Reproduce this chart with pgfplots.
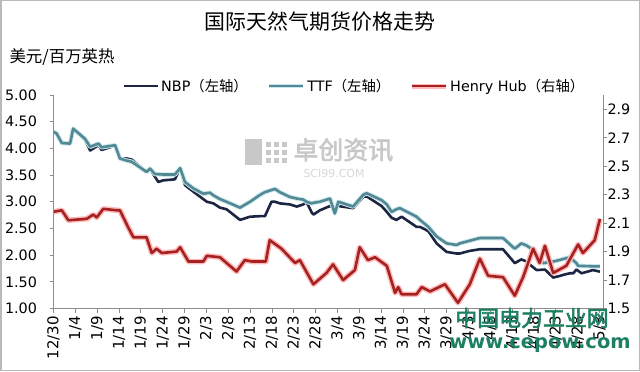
\documentclass[border=0pt]{standalone}
\usepackage{fontspec}
\setmainfont{DejaVu Sans}
\newfontfamily\cjk[AutoFakeBold=2.5]{Noto Sans CJK SC}
\usepackage{pgfplots}
\pgfplotsset{compat=1.18}
\definecolor{nbp}{RGB}{28,38,66}
\definecolor{ttf}{RGB}{84,136,146}
\definecolor{ttfglow}{RGB}{200,232,240}
\definecolor{hh}{RGB}{165,34,34}
\definecolor{hhglow}{RGB}{255,185,185}
\definecolor{axgray}{RGB}{140,140,140}
\definecolor{wmgreen}{RGB}{30,128,98}
\definecolor{wmgray}{RGB}{200,200,200}

\begin{document}
\begin{tikzpicture}[x=1bp,y=1bp]
\fill[white] (0,0) rectangle (640,371);
\draw[gray!55, line width=1.5bp] (0.75,0.75) rectangle (639.25,370.25);
\node[font=\cjk\fontsize{21}{24}\selectfont] at (320,349) {国际天然气期货价格走势};
\node[anchor=west, font=\cjk\fontsize{16.5}{18}\selectfont] at (6,314) {美元/百万英热};
% gray watermark
\fill[wmgray] (245,206) rectangle (262,232);
\foreach \i in {0,1,2} \foreach \j in {0,1,2} {\fill[wmgray] (266+\i*8,208+\j*8) rectangle (271+\i*8,213+\j*8);}
\node[anchor=west, text=wmgray, font=\cjk\bfseries\fontsize{25}{27}\selectfont] at (290,221) {卓创资讯};
\node[anchor=west, text=wmgray!70, font=\fontsize{11}{12}\selectfont] at (300,197) {SCI99.COM};

\begin{axis}[
  at={(53.5bp,62.5bp)}, anchor=south west, scale only axis,
  width=549.5bp, height=213.5bp,
  xmin=0, xmax=125.8, ymin=1, ymax=5,
  axis y line*=left, axis x line*=bottom,
  axis line style={axgray, line width=0.9bp},
  tick style={axgray, line width=0.8bp}, tick align=outside, major tick length=4bp,
  xtick={0,5,...,125},
  xticklabels={12/30,1/4,1/9,1/14,1/19,1/24,1/29,2/3,2/8,2/13,2/18,2/23,2/28,3/4,3/9,3/14,3/19,3/24,3/29,4/3,4/8,4/13,4/18,4/23,4/28,5/3},
  xticklabel style={rotate=90, anchor=east, font=\fontsize{15}{16}\selectfont},
  ytick={1,1.5,2,2.5,3,3.5,4,4.5,5},
  yticklabel style={font=\fontsize{14.4}{16}\selectfont, /pgf/number format/fixed, /pgf/number format/fixed zerofill, /pgf/number format/precision=2, xshift=-9bp},
  /pgf/number format/assume math mode=true,
  legend columns=3,
  legend style={at={(0.12,1.042)}, anchor=west, draw=none, fill=none, font=\fontsize{14.4}{16}\selectfont,
    /tikz/every even column/.append style={column sep=17bp}},
  legend image code/.code={\draw[#1] (0bp,0bp) -- (34bp,0bp);},
]
\addplot[nbp, line width=2.6bp, line join=round] coordinates {
(0,4.31)(0.7,4.28)(1.9,4.12)(3.8,4.09)(4.5,4.37)(7.2,4.16)(8.4,3.96)(10.3,4.06)(11.0,3.97)(14.1,4.05)
(15.2,3.81)(16.8,3.81)(17.9,3.79)(21.3,3.56)(22.1,3.61)(24.0,3.37)(25.1,3.40)(27.8,3.42)(29.0,3.63)(30.1,3.31)
(32.0,3.19)(35.1,3.00)(36.6,2.97)(38.1,2.89)(39.6,2.86)(42.7,2.66)(45.0,2.72)(47.3,2.73)(48.4,2.73)(49.9,3.00)
(50.7,3.00)(51.8,2.97)(54.1,2.95)(55.7,2.91)(57.2,2.95)(57.9,3.00)(59.1,2.80)(59.5,2.76)(61.0,2.84)(63.3,2.92)
(64.4,2.88)(65.2,2.92)(68.6,2.88)(70.9,3.09)(71.7,3.10)(75.1,2.92)(76.3,2.81)(77.4,2.70)(78.5,2.66)(79.3,2.70)
(79.7,2.72)(83.1,2.53)(83.9,2.53)(85.8,2.45)(87.7,2.22)(90.0,2.06)(92.3,2.03)(93.0,2.03)(95.3,2.08)(97.6,2.11)
(102.9,2.11)(105.6,1.85)(107.1,1.92)(108.3,1.88)(109.4,1.80)(110.6,1.72)(112.5,1.73)(114.4,1.58)(115.9,1.61)(116.7,1.63)
(118.2,1.66)(119.0,1.66)(119.7,1.73)(120.9,1.66)(123.5,1.72)(125.1,1.69)
};
\addlegendentry{NBP{\cjk（左轴）}}
\addplot[ttf, line width=2.6bp, line join=round, preaction={draw=ttfglow, line width=4.5bp}] coordinates {
(0,4.31)(0.7,4.28)(1.9,4.10)(3.8,4.09)(4.5,4.37)(7.2,4.18)(8.4,4.03)(10.3,4.09)(11.0,4.02)(14.1,4.06)
(15.2,3.81)(16.8,3.77)(17.9,3.75)(21.3,3.56)(22.1,3.62)(23.2,3.52)(25.1,3.51)(27.8,3.51)(29.0,3.63)(30.1,3.37)
(32.0,3.25)(34.3,3.15)(35.8,3.17)(36.6,3.12)(38.1,3.05)(39.6,3.00)(42.7,2.89)(45.0,3.00)(47.3,3.13)(48.4,3.18)
(49.9,3.22)(50.7,3.24)(51.8,3.18)(54.1,3.09)(55.7,3.06)(57.2,3.04)(57.9,3.00)(59.1,2.97)(59.5,2.98)(61.0,3.00)
(63.3,3.06)(64.4,2.78)(65.2,3.00)(68.6,2.91)(70.9,3.13)(71.7,3.16)(75.1,3.03)(76.3,2.95)(77.4,2.81)(78.5,2.86)
(79.3,2.88)(83.1,2.72)(83.9,2.66)(85.8,2.53)(87.7,2.35)(90.0,2.22)(92.3,2.19)(93.0,2.22)(95.3,2.27)(97.6,2.32)
(102.9,2.32)(105.6,2.12)(107.1,2.22)(108.3,2.18)(109.4,2.12)(110.6,2.00)(112.1,1.85)(114.4,1.88)(115.9,1.91)(118.2,1.96)
(119.7,1.85)(120.1,1.80)(123.5,1.79)(125.1,1.79)
};
\addlegendentry{TTF{\cjk（左轴）}}
\addlegendimage{hh, line width=2.6bp, preaction={draw=hhglow, line width=5bp}}
\addlegendentry{Henry Hub{\cjk（右轴）}}
\end{axis}

\begin{axis}[
  at={(53.5bp,62.5bp)}, anchor=south west, scale only axis,
  width=549.5bp, height=213.5bp,
  xmin=0, xmax=125.8, ymin=1.5, ymax=3.0,
  axis y line*=right, axis x line=none,
  axis line style={axgray, line width=0.9bp},
  tick style={axgray, line width=0.8bp}, tick align=outside, major tick length=4bp,
  ytick={1.5,1.7,1.9,2.1,2.3,2.5,2.7,2.9},
  yticklabel style={font=\fontsize{14.4}{16}\selectfont, /pgf/number format/fixed, /pgf/number format/fixed zerofill, /pgf/number format/precision=1, xshift=-3bp},
  /pgf/number format/assume math mode=true,
]
\addplot[hh, line width=2.6bp, line join=round, preaction={draw=hhglow, line width=5.5bp}] coordinates {
(0,2.18)(1.9,2.19)(3.4,2.12)(7.6,2.13)(9.1,2.16)(9.9,2.14)(11.4,2.20)(14.5,2.19)(15.2,2.19)(17.1,2.07)
(18.3,2.00)(21.3,2.00)(22.5,1.89)(23.6,1.92)(24.8,1.89)(28.2,1.90)(29.0,1.93)(30.9,1.83)(34.3,1.83)(35.1,1.87)
(38.1,1.86)(41.9,1.76)(43.8,1.84)(45.4,1.83)(48.6,1.83)(49.5,1.98)(52.2,1.92)(55.3,1.82)(56.4,1.84)(59.5,1.67)
(62.5,1.75)(64.0,1.81)(66.3,1.70)(69.0,1.77)(70.1,1.93)(72.0,1.84)(73.6,1.86)(76.3,1.80)(78.2,1.61)(78.9,1.65)
(79.7,1.60)(83.1,1.60)(84.3,1.65)(86.2,1.62)(89.6,1.67)(92.6,1.54)(95.3,1.67)(97.6,1.85)(99.5,1.73)(102.9,1.72)
(105.6,1.59)(107.5,1.72)(109.8,1.92)(111.3,1.82)(112.5,1.94)(114.4,1.75)(117.4,1.80)(120.1,1.95)(121.2,1.89)(123.9,1.98)
(125.1,2.13)
};
\end{axis}

\node[text=wmgreen, font=\cjk\bfseries\fontsize{22}{24}\selectfont] at (532,53) {中国电力工业网};
\node[text=wmgreen, font=\bfseries\fontsize{19.5}{21}\selectfont] at (540,26) {www.cepow.com};
\end{tikzpicture}
\end{document}
